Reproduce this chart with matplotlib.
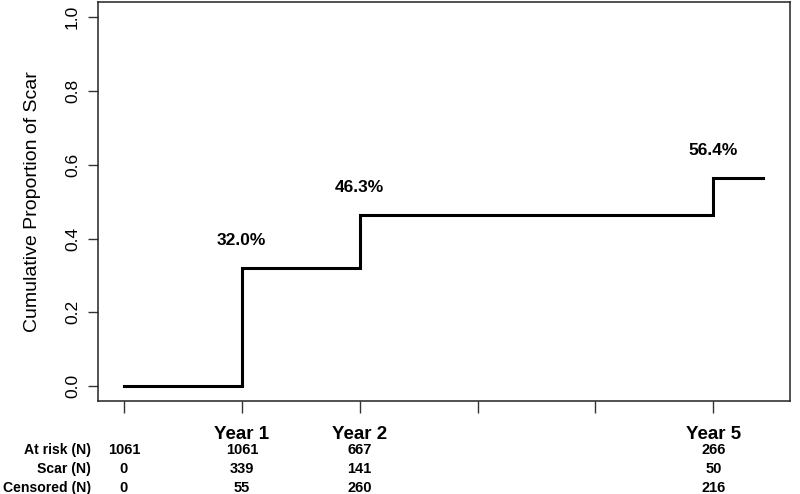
import matplotlib
matplotlib.use("Agg")
import matplotlib.pyplot as plt

plt.rcParams['font.family'] = ['Liberation Sans', 'DejaVu Sans']

# Data
step_times = [0, 1, 2, 5, 5.42]
cum_prop = [0.0, 0.320, 0.463, 0.564, 0.564]
pct_labels = ["32.0%", "46.3%", "56.4%"]
label_times = [1, 2, 5]
label_values = [0.320, 0.463, 0.564]

year_ticks = [0, 1, 2, 3, 4, 5]
year_labels = ["", "Year 1", "Year 2", "", "", "Year 5"]

table_times = [0, 1, 2, 5]
at_risk = [1061, 1061, 667, 266]
scar = [0, 339, 141, 50]
censored = [0, 55, 260, 216]
row_names = ["At risk (N)", "Scar (N)", "Censored (N)"]

fig = plt.figure(figsize=(8, 4.94), dpi=100)
ax = fig.add_axes([0.1225, 0.188, 0.865, 0.808])

ax.step(step_times, cum_prop, where='post', color='black', lw=2.2,
        solid_joinstyle='miter')

for t, v, s in zip(label_times, label_values, pct_labels):
    ax.text(t, v + 0.075, s, ha='center', va='center', fontsize=12.5,
            fontweight='bold')

ax.set_xlim(-0.22, 5.65)
ax.set_ylim(-0.04, 1.04)
ax.set_yticks([0.0, 0.2, 0.4, 0.6, 0.8, 1.0])
ax.set_yticklabels(["0.0", "0.2", "0.4", "0.6", "0.8", "1.0"], rotation=90,
                   va='center', fontsize=12.5)
ax.set_xticks(year_ticks)
ax.set_xticklabels([])
ax.tick_params(axis='both', direction='out', width=1, color='#333333')
ax.tick_params(axis='x', length=8.5)
ax.tick_params(axis='y', length=7, pad=6)
for sp in ax.spines.values():
    sp.set_linewidth(1.1)
    sp.set_color('#222222')

ax.set_ylabel("Cumulative Proportion of Scar", fontsize=14)
ax.yaxis.set_label_coords(-0.083, 0.5)

# Year labels
trans = ax.get_xaxis_transform()
for t, lab in zip(year_ticks, year_labels):
    if lab:
        ax.annotate(lab, xy=(t, 0), xycoords=trans, xytext=(0, -33),
                    textcoords='offset pixels', ha='center', va='center',
                    fontsize=13.5, fontweight='bold')

rows = [at_risk, scar, censored]
row_offsets = [-49, -68, -87]
for name, vals, off in zip(row_names, rows, row_offsets):
    ax.annotate(name, xy=(-0.22, 0), xycoords=trans, xytext=(-7, off),
                textcoords='offset pixels', ha='right', va='center',
                fontsize=10.1, fontweight='bold')
    for t, v in zip(table_times, vals):
        ax.annotate(str(v), xy=(t, 0), xycoords=trans, xytext=(0, off),
                    textcoords='offset pixels', ha='center', va='center',
                    fontsize=10.5, fontweight='bold')

fig.savefig("out.png", dpi=100)
